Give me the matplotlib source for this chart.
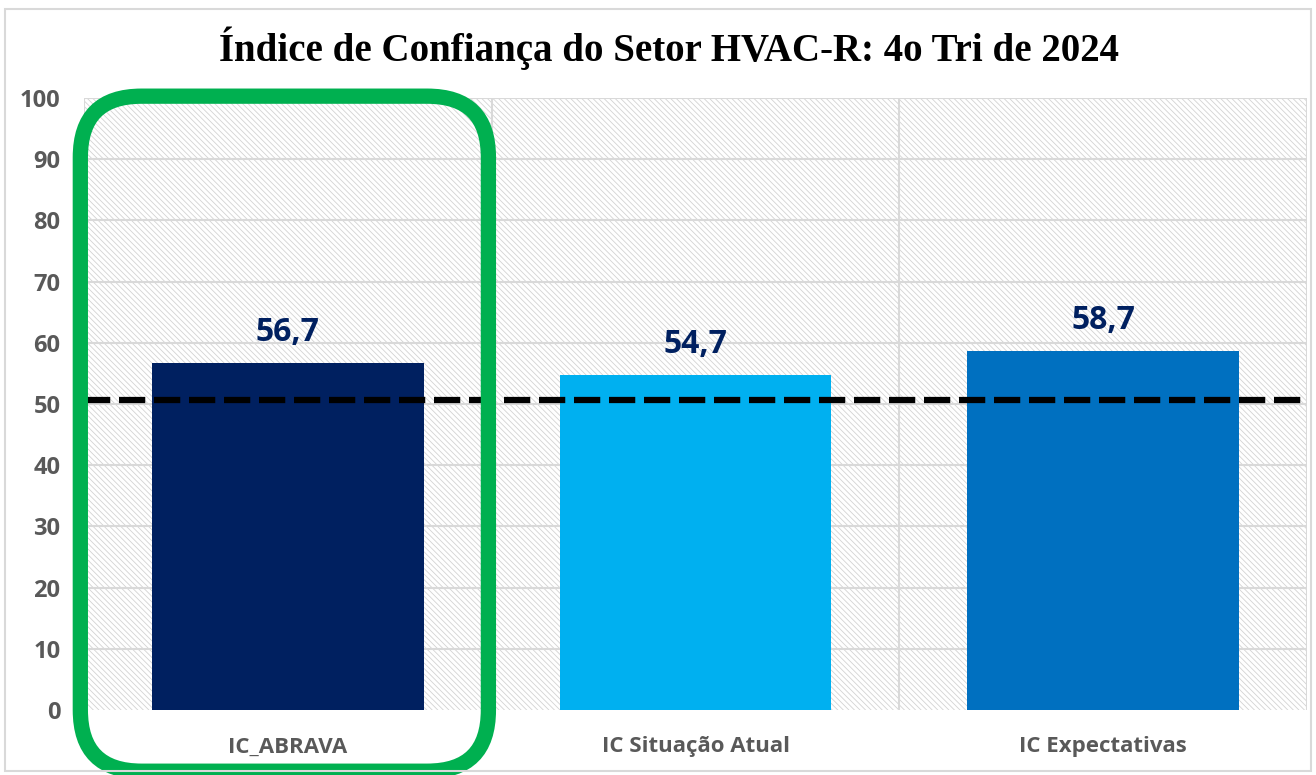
import matplotlib
matplotlib.use("Agg")
import matplotlib.pyplot as plt
from matplotlib.patches import Rectangle, FancyBboxPatch

# === DADOS ===
categorias = ["IC_ABRAVA", "IC Situação Atual", "IC Expectativas"]
valores = [56.7, 54.7, 58.7]
rotulos = ["56,7", "54,7", "58,7"]
cores = ["#002060", "#00B0F0", "#0070C0"]
linha_neutra = 50.7
titulo = "Índice de Confiança do Setor HVAC-R: 4o Tri de 2024"

W, H = 1316, 775
plt.rcParams["hatch.linewidth"] = 0.6
plt.rcParams["hatch.color"] = "#D3D3D3"

fig = plt.figure(figsize=(W / 100, H / 100), dpi=100)
fig.patch.set_facecolor("white")

# moldura externa do gráfico
fig.add_artist(Rectangle((5 / W, 4 / H), 1306 / W, 762 / H, transform=fig.transFigure,
                         fill=False, edgecolor="#D9D9D9", linewidth=1.5))

ax = fig.add_axes([84 / W, 65 / H, 1223 / W, 612 / H])
ax.set_xlim(-0.5, len(categorias) - 0.5)
ax.set_ylim(0, 100)

# fundo hachurado
ax.add_patch(Rectangle((0, 0), 1, 1, transform=ax.transAxes, facecolor="white",
                       hatch="\\\\\\\\\\\\", edgecolor="#D3D3D3", linewidth=0, zorder=0))

# grades
ax.set_yticks(range(0, 101, 10))
for y in range(10, 101, 10):
    ax.axhline(y, color="#D9D9D9", linewidth=1.5, zorder=1)
for x in [-0.5, 0.5, 1.5, 2.5]:
    ax.axvline(x, color="#D9D9D9", linewidth=1.5, zorder=1)
for s in ax.spines.values():
    s.set_visible(False)

x = list(range(len(categorias)))
ax.bar(x, valores, width=0.667, color=cores, zorder=2)

for xi, v, r in zip(x, valores, rotulos):
    ax.annotate(r, (xi, v), xytext=(0, 10), textcoords="offset points", ha="center", va="bottom",
                fontsize=23, fontweight="bold", color="#002060", family="Open Sans")

ax.axhline(linha_neutra, color="black", linewidth=4.5, dashes=(4.2, 1.4), zorder=3)

ax.set_xticks(x)
ax.set_xticklabels(categorias, fontsize=16, fontweight="bold", color="#595959", family="Open Sans")
ax.tick_params(axis="both", length=0)
ax.tick_params(axis="x", pad=19)
ax.tick_params(axis="y", pad=17)
for lab in ax.get_yticklabels():
    lab.set_fontsize(17)
    lab.set_fontweight("bold")
    lab.set_color("#595959")
    lab.set_family("Open Sans")

# destaque verde em volta do IC_ABRAVA
aspecto = (1223 / 3) / (612 / 100)
destaque = FancyBboxPatch((-0.509, -10), 1.001, 110.3,
                          boxstyle="round,pad=0,rounding_size=0.15",
                          mutation_aspect=aspecto, transform=ax.transData,
                          fill=False, edgecolor="#00B050", linewidth=11,
                          clip_on=False, zorder=5)
ax.add_patch(destaque)

fig.text(0.508, 0.938, titulo, ha="center", va="center", fontsize=28, fontweight="bold",
         family="Liberation Serif", color="black")

fig.savefig("out.png", dpi=100)
